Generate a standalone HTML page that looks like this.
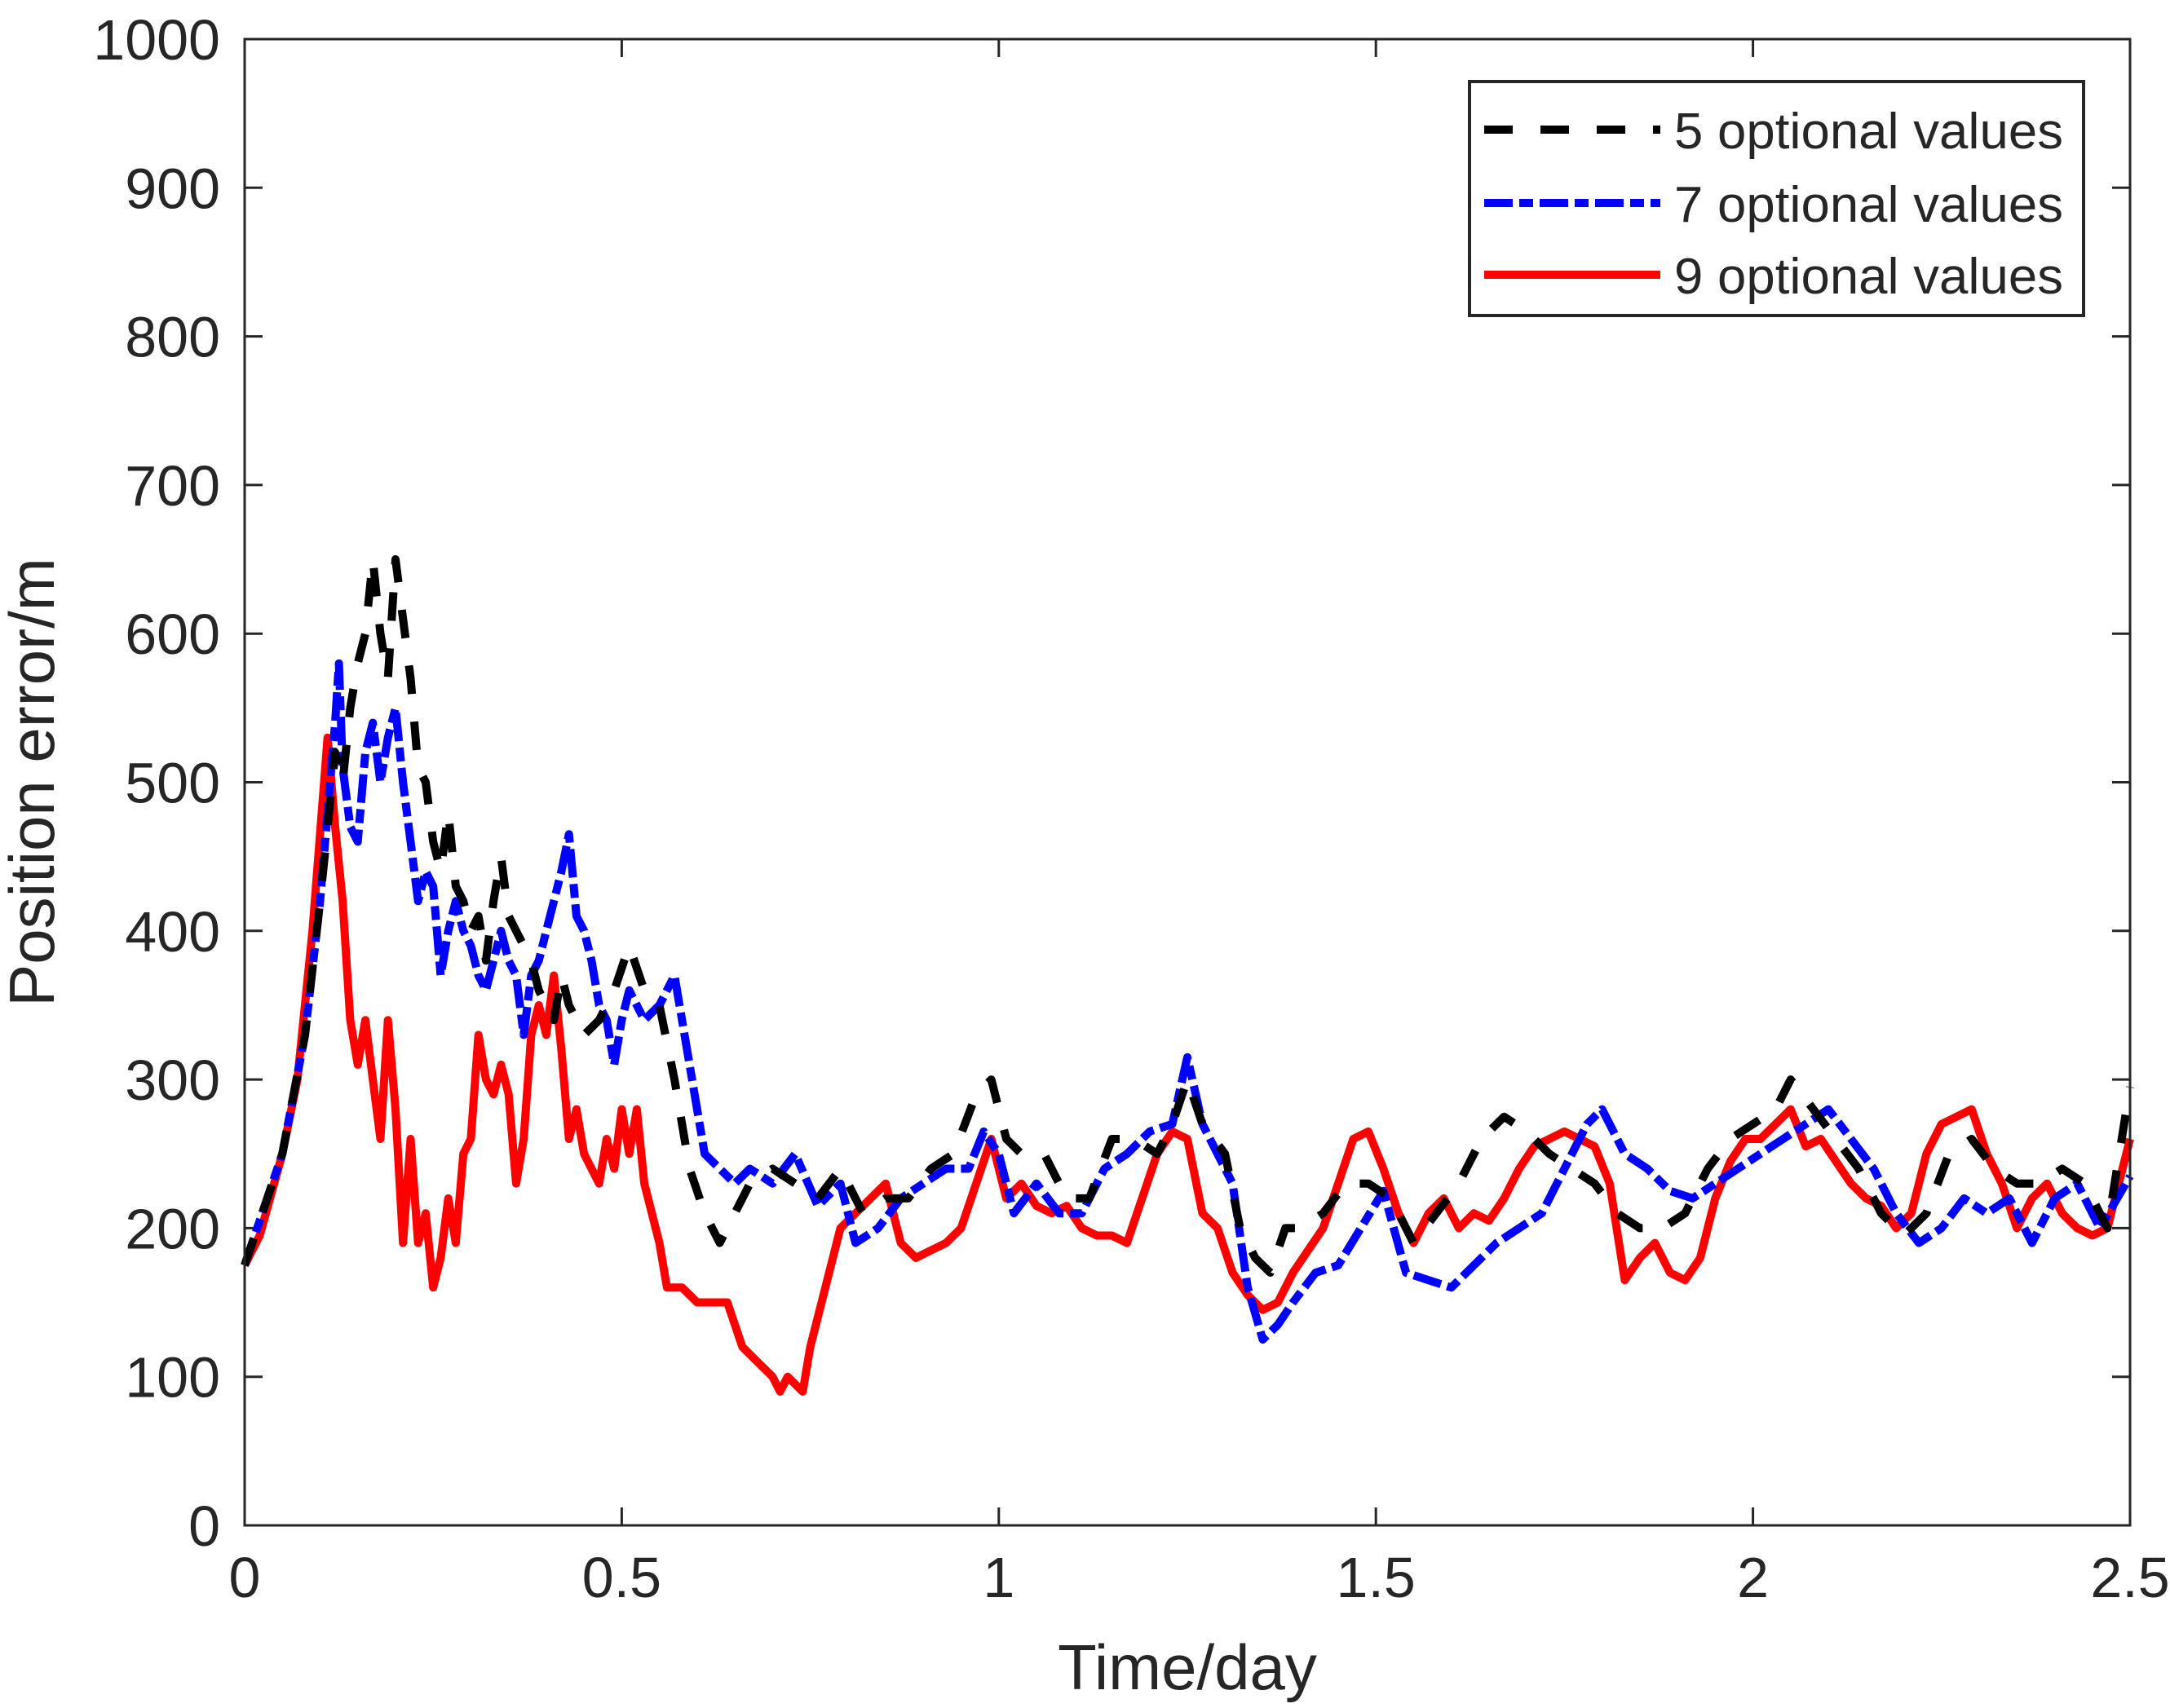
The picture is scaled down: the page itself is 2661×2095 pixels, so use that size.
<!DOCTYPE html>
<html><head><meta charset="utf-8"><style>
html,body{margin:0;padding:0;background:#fff}
svg{display:block}
text{font-family:"Liberation Sans",Arial,sans-serif;fill:#262626}
</style></head><body>
<svg id="chart" width="2661" height="2095" viewBox="0 0 2661 2095" xmlns="http://www.w3.org/2000/svg">
<rect x="0" y="0" width="2661" height="2095" fill="#fff"/>
<g id="axes"></g>
<g id="series"></g>
<g id="frame"></g>
<g id="legend"></g>
</svg>
<script>
const xTicks=[0,0.5,1,1.5,2,2.5];
const xTickLabels=["0","0.5","1","1.5","2","2.5"];
const yTicks=[0,100,200,300,400,500,600,700,800,900,1000];
const yTickLabels=["0","100","200","300","400","500","600","700","800","900","1000"];
const seriesNames=["5 optional values","7 optional values","9 optional values"];

const t5=[0,0.05,0.08,0.1,0.12,0.13,0.14,0.15,0.16,0.17,0.18,0.19,0.2,0.21,0.22,0.23,0.24,0.25,0.26,0.27,0.28,0.29,0.3,0.31,0.32,0.33,0.34,0.35,0.36,0.37,0.38,0.39,0.4,0.41,0.42,0.43,0.45,0.47,0.49,0.51,0.53,0.55,0.57,0.59,0.61,0.63,0.65,0.67,0.7,0.73,0.76,0.79,0.82,0.85,0.88,0.91,0.94,0.97,0.99,1.01,1.03,1.06,1.09,1.12,1.15,1.18,1.21,1.23,1.25,1.27,1.3,1.32,1.34,1.36,1.38,1.4,1.43,1.46,1.49,1.52,1.55,1.58,1.61,1.64,1.67,1.7,1.73,1.76,1.79,1.82,1.85,1.88,1.91,1.94,1.97,2.0,2.03,2.05,2.08,2.11,2.14,2.17,2.2,2.23,2.26,2.29,2.32,2.35,2.38,2.41,2.44,2.47,2.5];
const v5=[175,250,330,420,520,500,550,580,600,650,600,570,650,610,570,510,500,460,440,480,430,420,400,410,380,420,450,410,400,390,380,360,350,340,370,350,330,340,360,390,360,350,300,240,210,190,210,230,240,230,220,240,210,220,220,240,250,290,300,260,250,250,220,220,260,260,250,270,300,270,250,200,180,170,200,200,210,230,230,220,190,210,230,260,275,265,250,240,230,210,200,200,210,240,260,270,280,300,280,260,240,210,195,210,250,260,240,230,230,240,230,200,295];

const t7=[0,0.05,0.08,0.1,0.12,0.125,0.13,0.14,0.15,0.16,0.17,0.18,0.19,0.2,0.21,0.22,0.23,0.24,0.25,0.26,0.27,0.28,0.29,0.3,0.31,0.32,0.33,0.34,0.35,0.36,0.37,0.38,0.39,0.4,0.41,0.42,0.43,0.44,0.45,0.46,0.47,0.48,0.49,0.5,0.51,0.53,0.55,0.57,0.59,0.61,0.63,0.65,0.67,0.7,0.73,0.76,0.79,0.81,0.84,0.87,0.9,0.93,0.96,0.98,1.0,1.02,1.05,1.08,1.11,1.14,1.17,1.2,1.23,1.25,1.27,1.29,1.31,1.33,1.35,1.37,1.39,1.42,1.45,1.48,1.51,1.54,1.57,1.6,1.63,1.66,1.69,1.72,1.75,1.78,1.8,1.83,1.86,1.89,1.92,1.95,1.98,2.01,2.04,2.07,2.1,2.13,2.16,2.19,2.22,2.25,2.28,2.31,2.34,2.37,2.4,2.43,2.46,2.5];
const v7=[175,250,330,420,540,580,510,470,460,520,540,500,530,550,500,460,420,440,430,370,400,420,400,390,370,360,380,400,380,370,330,370,380,400,420,440,465,410,400,380,350,340,310,340,360,340,350,370,310,250,240,230,240,230,250,215,230,190,200,220,230,240,240,265,250,210,230,210,210,240,250,265,270,315,270,250,230,160,125,135,150,170,175,200,225,170,165,160,175,190,200,210,240,270,280,250,240,225,220,230,240,250,260,270,280,260,240,210,190,200,220,210,220,190,220,230,200,235];

const t9=[0,0.02,0.05,0.07,0.09,0.11,0.12,0.13,0.14,0.15,0.16,0.17,0.18,0.19,0.2,0.21,0.22,0.23,0.24,0.25,0.26,0.27,0.28,0.29,0.3,0.31,0.32,0.33,0.34,0.35,0.36,0.37,0.38,0.39,0.4,0.41,0.42,0.43,0.44,0.45,0.46,0.47,0.48,0.49,0.5,0.51,0.52,0.53,0.55,0.56,0.58,0.6,0.62,0.64,0.66,0.68,0.7,0.71,0.72,0.74,0.75,0.77,0.79,0.81,0.83,0.85,0.87,0.89,0.91,0.93,0.95,0.97,0.99,1.01,1.03,1.05,1.07,1.09,1.11,1.13,1.15,1.17,1.19,1.21,1.23,1.25,1.27,1.29,1.31,1.33,1.35,1.37,1.39,1.41,1.43,1.45,1.47,1.49,1.51,1.53,1.55,1.57,1.59,1.61,1.63,1.65,1.67,1.69,1.71,1.73,1.75,1.77,1.79,1.81,1.83,1.85,1.87,1.89,1.91,1.93,1.95,1.97,1.99,2.01,2.03,2.05,2.07,2.09,2.11,2.13,2.15,2.17,2.19,2.21,2.23,2.25,2.27,2.29,2.31,2.33,2.35,2.37,2.39,2.41,2.43,2.45,2.47,2.49,2.5];
const v9=[175,195,250,300,400,530,470,420,340,310,340,300,260,340,280,190,260,190,210,160,180,220,190,250,260,330,300,290,310,290,230,260,330,350,330,370,320,260,280,250,240,230,260,240,280,250,280,230,190,160,160,150,150,150,120,110,100,90,100,90,120,160,200,210,220,230,190,180,185,190,200,230,260,220,230,215,210,215,200,195,195,190,220,250,265,260,210,200,170,155,145,150,170,185,200,230,260,265,240,210,190,210,220,200,210,205,220,240,255,260,265,260,255,230,165,180,190,170,165,180,220,245,260,260,270,280,255,260,245,230,220,215,200,210,250,270,275,280,250,230,200,220,230,210,200,195,200,240,260];

const L=300,R=2612,T=48,B=1871;
function xs(t){return L+t/2.5*(R-L);}
function ys(v){return B-v/1000*(B-T);}
const NS="http://www.w3.org/2000/svg";
function mk(tag,attrs,parent){const e=document.createElementNS(NS,tag);for(const k in attrs)e.setAttribute(k,attrs[k]);parent.appendChild(e);return e;}

const axes=document.getElementById('axes');
xTicks.forEach((t,i)=>{
  const x=xs(t);
  const a=mk('line',{x1:x,y1:B,x2:x,y2:B-22,stroke:'#262626','stroke-width':3},axes);
  
  
  const b=mk('line',{x1:x,y1:T,x2:x,y2:T+22,stroke:'#262626','stroke-width':3},axes);
  
  
  const tx=mk('text',{x:x,y:B+88,'font-size':70,'text-anchor':'middle'},axes);
  tx.textContent=xTickLabels[i];
  
  
});
yTicks.forEach((v,i)=>{
  const y=ys(v);
  const a=mk('line',{x1:L,y1:y,x2:L+22,y2:y,stroke:'#262626','stroke-width':3},axes);
  
  
  const b=mk('line',{x1:R,y1:y,x2:R-22,y2:y,stroke:'#262626','stroke-width':3},axes);
  
  
  const tx=mk('text',{x:L-30,y:y+25,'font-size':70,'text-anchor':'end'},axes);
  tx.textContent=yTickLabels[i];
  
  
});
const xl=mk('text',{x:(L+R)/2,y:2072,'font-size':78,'text-anchor':'middle'},axes);
xl.textContent='Time/day';


const yl=mk('text',{x:0,y:0,'font-size':78,'text-anchor':'middle',transform:'translate(66,'+((T+B)/2)+') rotate(-90)'},axes);
yl.textContent='Position error/m';



const sg=document.getElementById('series');
function drawLine(ts,vs,color,dash,name){
  const d=ts.map((t,i)=>(i?'L':'M')+xs(t).toFixed(1)+','+ys(vs[i]).toFixed(1)).join(' ');
  const p=mk('path',{d:d,fill:'none',stroke:color,'stroke-width':10,'stroke-linejoin':'round'},sg);
  if(dash)p.setAttribute('stroke-dasharray',dash);
  
  
}
drawLine(t9,v9,'#ff0000',null,'series-9-optional-values');
drawLine(t7,v7,'#0000ff','35 8 17 8','series-7-optional-values');
drawLine(t5,v5,'#000000','35 34','series-5-optional-values');

const fr=document.getElementById('frame');
const box=mk('rect',{x:L,y:T,width:R-L,height:B-T,fill:'none',stroke:'#262626','stroke-width':3},fr);



const lg=document.getElementById('legend');
const lb=mk('rect',{x:1802,y:100,width:753,height:287,fill:'#fff',stroke:'#262626','stroke-width':4},lg);


const lys=[159,249,337];
const lcol=['#000000','#0000ff','#ff0000'];
const ldash=['35 34','35 8 17 8',null];
seriesNames.forEach((n,i)=>{
  const ln=mk('line',{x1:1820,y1:lys[i],x2:2036,y2:lys[i],stroke:lcol[i],'stroke-width':10},lg);
  if(ldash[i])ln.setAttribute('stroke-dasharray',ldash[i]);
  
  
  const tx=mk('text',{x:2053,y:lys[i]+23,'font-size':62,textLength:477,lengthAdjust:'spacingAndGlyphs',fill:'#000'},lg);
  tx.textContent=n;
  
  
});
</script>
</body></html>
